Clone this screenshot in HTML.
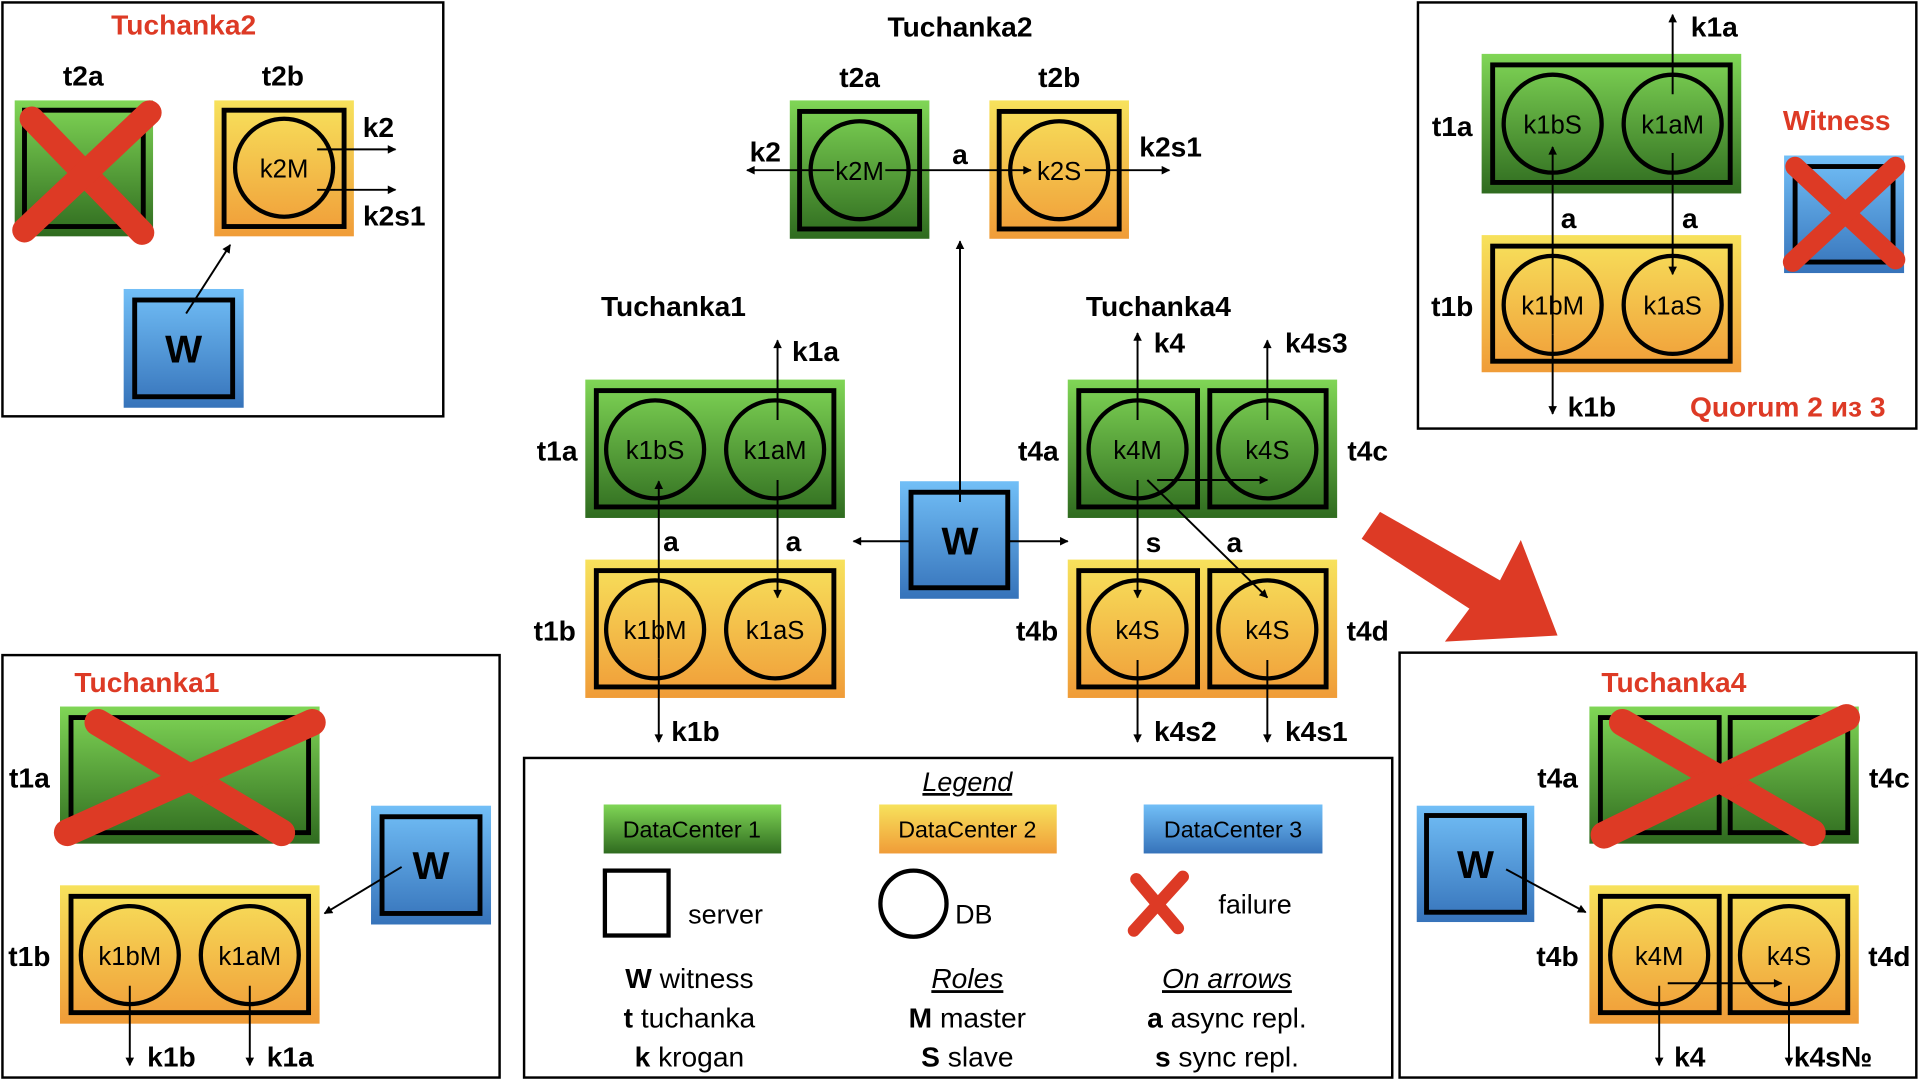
<!DOCTYPE html>
<html><head><meta charset="utf-8"><style>html,body{margin:0;padding:0;background:#fff}svg{display:block}</style></head><body>
<svg width="1920" height="1080" viewBox="0 0 1568 882" xmlns="http://www.w3.org/2000/svg" font-family="Liberation Sans, sans-serif">
<defs>
<linearGradient id="g" x1="0" y1="0" x2="0" y2="1"><stop offset="0" stop-color="#80d656"/><stop offset="1" stop-color="#2f6b1f"/></linearGradient>
<linearGradient id="y" x1="0" y1="0" x2="0" y2="1"><stop offset="0" stop-color="#f7e25c"/><stop offset="1" stop-color="#f09c38"/></linearGradient>
<linearGradient id="b" x1="0" y1="0" x2="0" y2="1"><stop offset="0" stop-color="#72bff7"/><stop offset="1" stop-color="#3673ba"/></linearGradient>
<marker id="ah" viewBox="0 0 10 10" refX="9" refY="5" markerWidth="8" markerHeight="7" orient="auto-start-reverse" markerUnits="userSpaceOnUse"><path d="M0,0 L10,5 L0,10 z" fill="#000"/></marker>
</defs>
<g stroke="#000" stroke-width="2" fill="none">
<rect x="2" y="2" width="360" height="338"/>
<rect x="1158" y="2" width="407" height="348"/>
<rect x="2" y="535" width="406" height="345"/>
<rect x="1143" y="533" width="422" height="347"/>
<rect x="428" y="619" width="709" height="261"/>
</g>

<g font-weight="bold" font-size="23" text-anchor="middle" fill="#000">
<text x="150" y="28" fill="#dd3a25">Tuchanka2</text>
<text x="68" y="70">t2a</text><text x="231" y="70">t2b</text>
<text x="309" y="112">k2</text><text x="322" y="184">k2s1</text>
<text x="784" y="30">Tuchanka2</text>
<text x="702" y="71">t2a</text><text x="865" y="71">t2b</text>
<text x="625" y="132">k2</text><text x="784" y="134">a</text><text x="956" y="128">k2s1</text>
<text x="550" y="258">Tuchanka1</text><text x="666" y="295">k1a</text>
<text x="455" y="376">t1a</text><text x="453" y="523">t1b</text>
<text x="548" y="450">a</text><text x="648" y="450">a</text>
<text x="568" y="605">k1b</text>
<text x="946" y="258">Tuchanka4</text>
<text x="955" y="288">k4</text><text x="1075" y="288">k4s3</text>
<text x="848" y="376">t4a</text><text x="1117" y="376">t4c</text>
<text x="847" y="523">t4b</text><text x="1117" y="523">t4d</text>
<text x="942" y="451">s</text><text x="1008" y="451">a</text><text x="998" y="409">a</text>
<text x="968" y="605">k4s2</text><text x="1075" y="605">k4s1</text>
<text x="1400" y="30">k1a</text><text x="1186" y="111">t1a</text><text x="1186" y="258">t1b</text>
<text x="1281" y="186">a</text><text x="1380" y="186">a</text><text x="1300" y="340">k1b</text>
<text x="1500" y="106" fill="#dd3a25">Witness</text>
<text x="1460" y="340" fill="#dd3a25">Quorum 2 из 3</text>
<text x="120" y="565" fill="#dd3a25">Tuchanka1</text>
<text x="24" y="643">t1a</text><text x="24" y="789">t1b</text>
<text x="140" y="871">k1b</text><text x="237" y="871">k1a</text>
<text x="1367" y="565" fill="#dd3a25">Tuchanka4</text>
<text x="1272" y="643">t4a</text><text x="1543" y="643">t4c</text>
<text x="1272" y="789">t4b</text><text x="1543" y="789">t4d</text>
<text x="1380" y="871">k4</text><text x="1497" y="871">k4s№</text>
<text x="1422" y="823">s</text>
</g>

<g stroke="#000" stroke-width="4">
<rect x="12" y="82" width="113" height="111" fill="url(#g)" stroke="none"/><rect x="20" y="90" width="97" height="95" fill="none"/>
<rect x="175" y="82" width="114" height="111" fill="url(#y)" stroke="none"/><rect x="183" y="90" width="98" height="95" fill="none"/>
<rect x="101" y="236" width="98" height="97" fill="url(#b)" stroke="none"/><rect x="110" y="245" width="80" height="79" fill="none"/>
<rect x="645" y="82" width="114" height="113" fill="url(#g)" stroke="none"/><rect x="653" y="91" width="98" height="96" fill="none"/>
<rect x="808" y="82" width="114" height="113" fill="url(#y)" stroke="none"/><rect x="816" y="91" width="98" height="96" fill="none"/>
<rect x="478" y="310" width="212" height="113" fill="url(#g)" stroke="none"/><rect x="487" y="319" width="194" height="95" fill="none"/>
<rect x="478" y="457" width="212" height="113" fill="url(#y)" stroke="none"/><rect x="487" y="466" width="194" height="95" fill="none"/>
<rect x="735" y="393" width="97" height="96" fill="url(#b)" stroke="none"/><rect x="744" y="402" width="79" height="78" fill="none"/>
<rect x="872" y="310" width="220" height="113" fill="url(#g)" stroke="none"/><rect x="881" y="319" width="97" height="95" fill="none"/><rect x="988" y="319" width="95" height="95" fill="none"/>
<rect x="872" y="457" width="220" height="113" fill="url(#y)" stroke="none"/><rect x="881" y="466" width="97" height="95" fill="none"/><rect x="988" y="466" width="95" height="95" fill="none"/>
<rect x="1210" y="44" width="212" height="114" fill="url(#g)" stroke="none"/><rect x="1219" y="53" width="194" height="96" fill="none"/>
<rect x="1210" y="192" width="212" height="112" fill="url(#y)" stroke="none"/><rect x="1219" y="201" width="194" height="94" fill="none"/>
<rect x="1457" y="127" width="98" height="96" fill="url(#b)" stroke="none"/><rect x="1466" y="136" width="80" height="78" fill="none"/>
<rect x="49" y="577" width="212" height="112" fill="url(#g)" stroke="none"/><rect x="58" y="586" width="194" height="94" fill="none"/>
<rect x="49" y="723" width="212" height="113" fill="url(#y)" stroke="none"/><rect x="58" y="732" width="194" height="95" fill="none"/>
<rect x="303" y="658" width="98" height="97" fill="url(#b)" stroke="none"/><rect x="312" y="667" width="80" height="79" fill="none"/>
<rect x="1298" y="577" width="220" height="112" fill="url(#g)" stroke="none"/><rect x="1307" y="586" width="97" height="94" fill="none"/><rect x="1413" y="586" width="96" height="94" fill="none"/>
<rect x="1298" y="723" width="220" height="113" fill="url(#y)" stroke="none"/><rect x="1307" y="732" width="97" height="95" fill="none"/><rect x="1413" y="732" width="96" height="95" fill="none"/>
<rect x="1157" y="658" width="96" height="95" fill="url(#b)" stroke="none"/><rect x="1165" y="666" width="80" height="79" fill="none"/>
<g fill="none" stroke-width="3.5">
<circle cx="232" cy="137" r="40"/>
<circle cx="702" cy="139" r="40"/><circle cx="865" cy="139" r="40"/>
<circle cx="535" cy="367" r="40"/><circle cx="633" cy="367" r="40"/>
<circle cx="535" cy="514" r="40"/><circle cx="633" cy="514" r="40"/>
<circle cx="929" cy="367" r="40"/><circle cx="1035" cy="367" r="40"/>
<circle cx="929" cy="514" r="40"/><circle cx="1035" cy="514" r="40"/>
<circle cx="1268" cy="101" r="40"/><circle cx="1366" cy="101" r="40"/>
<circle cx="1268" cy="249" r="40"/><circle cx="1366" cy="249" r="40"/>
<circle cx="106" cy="780" r="40"/><circle cx="204" cy="780" r="40"/>
<circle cx="1355" cy="780" r="40"/><circle cx="1461" cy="780" r="40"/>
</g>
</g>

<g font-size="21" text-anchor="middle" fill="#000">
<text x="232" y="145">k2M</text>
<text x="702" y="147">k2M</text><text x="865" y="147">k2S</text>
<text x="535" y="375">k1bS</text><text x="633" y="375">k1aM</text>
<text x="535" y="522">k1bM</text><text x="633" y="522">k1aS</text>
<text x="929" y="375">k4M</text><text x="1035" y="375">k4S</text>
<text x="929" y="522">k4S</text><text x="1035" y="522">k4S</text>
<text x="1268" y="109">k1bS</text><text x="1366" y="109">k1aM</text>
<text x="1268" y="257">k1bM</text><text x="1366" y="257">k1aS</text>
<text x="106" y="788">k1bM</text><text x="204" y="788">k1aM</text>
<text x="1355" y="788">k4M</text><text x="1461" y="788">k4S</text>
</g>
<g font-size="32" font-weight="bold" text-anchor="middle" fill="#000">
<text x="150" y="296">W</text><text x="784" y="453">W</text><text x="352" y="718">W</text><text x="1205" y="717">W</text>
</g>

<g stroke="#000" stroke-width="1.6" fill="none" marker-end="url(#ah)">
<line x1="259" y1="122" x2="323" y2="122"/><line x1="259" y1="155" x2="323" y2="155"/>
<line x1="152" y1="256" x2="188" y2="200"/>
<line x1="681" y1="139" x2="610" y2="139"/><line x1="723" y1="139" x2="842" y2="139"/><line x1="886" y1="139" x2="955" y2="139"/>
<line x1="784" y1="410" x2="784" y2="197"/>
<line x1="744" y1="442" x2="697" y2="442"/><line x1="823" y1="442" x2="872" y2="442"/>
<line x1="635" y1="343" x2="635" y2="278"/>
<line x1="538" y1="538" x2="538" y2="393"/>
<line x1="635" y1="392" x2="635" y2="488"/>
<line x1="538" y1="538" x2="538" y2="606"/>
<line x1="929" y1="343" x2="929" y2="272"/>
<line x1="1035" y1="343" x2="1035" y2="278"/>
<line x1="945" y1="392" x2="1035" y2="392"/>
<line x1="929" y1="392" x2="929" y2="488"/>
<line x1="937" y1="392" x2="1035" y2="488"/>
<line x1="929" y1="539" x2="929" y2="606"/>
<line x1="1035" y1="539" x2="1035" y2="606"/>
<line x1="1366" y1="77" x2="1366" y2="12"/>
<line x1="1268" y1="273" x2="1268" y2="120"/>
<line x1="1366" y1="125" x2="1366" y2="224"/>
<line x1="1268" y1="273" x2="1268" y2="338"/>
<line x1="106" y1="805" x2="106" y2="870"/><line x1="204" y1="805" x2="204" y2="870"/>
<line x1="328" y1="708" x2="265" y2="746"/>
<line x1="1355" y1="805" x2="1355" y2="870"/><line x1="1461" y1="805" x2="1461" y2="870"/>
<line x1="1362" y1="803" x2="1455" y2="803"/>
<line x1="1230" y1="710" x2="1295" y2="745"/>
</g>

<g stroke="#dd3a25" stroke-linecap="round" fill="none">
<g stroke-width="20"><line x1="26" y1="97" x2="116" y2="190"/><line x1="122" y1="92" x2="20" y2="188"/></g>
<g stroke-width="16"><line x1="1466" y1="136" x2="1548" y2="212"/><line x1="1548" y1="136" x2="1464" y2="214"/></g>
<g stroke-width="22"><line x1="80" y1="590" x2="230" y2="680"/><line x1="255" y1="590" x2="55" y2="680"/></g>
<g stroke-width="22"><line x1="1325" y1="590" x2="1480" y2="680"/><line x1="1508" y1="586" x2="1310" y2="682"/></g>
<g stroke-width="10"><line x1="928" y1="718" x2="962" y2="758"/><line x1="966" y1="716" x2="926" y2="760"/></g>
</g>
<polygon points="1112,440 1127,418 1225,474 1242,441 1272,519 1180,524 1200,497" fill="#dd3a25"/>

<g font-size="22" fill="#000">
<text x="790" y="646" text-anchor="middle" font-style="italic" text-decoration="underline">Legend</text>
<rect x="493" y="657" width="145" height="40" fill="url(#g)"/>
<rect x="718" y="657" width="145" height="40" fill="url(#y)"/>
<rect x="934" y="657" width="146" height="40" fill="url(#b)"/>
<g font-size="19" text-anchor="middle"><text x="565" y="684">DataCenter 1</text><text x="790" y="684">DataCenter 2</text><text x="1007" y="684">DataCenter 3</text></g>
<rect x="494" y="711" width="52" height="53" fill="none" stroke="#000" stroke-width="3.5"/>
<text x="562" y="754">server</text>
<circle cx="746" cy="738" r="27" fill="none" stroke="#000" stroke-width="3.5"/>
<text x="780" y="754">DB</text>
<text x="995" y="746">failure</text>
<g text-anchor="middle" font-size="23">
<text x="563" y="807"><tspan font-weight="bold">W</tspan> witness</text>
<text x="563" y="839"><tspan font-weight="bold">t</tspan> tuchanka</text>
<text x="563" y="871"><tspan font-weight="bold">k</tspan> krogan</text>
<text x="790" y="807" font-style="italic" text-decoration="underline">Roles</text>
<text x="790" y="839"><tspan font-weight="bold">M</tspan> master</text>
<text x="790" y="871"><tspan font-weight="bold">S</tspan> slave</text>
<text x="1002" y="807" font-style="italic" text-decoration="underline">On arrows</text>
<text x="1002" y="839"><tspan font-weight="bold">a</tspan> async repl.</text>
<text x="1002" y="871"><tspan font-weight="bold">s</tspan> sync repl.</text>
</g>
</g>
</svg>
</body></html>
